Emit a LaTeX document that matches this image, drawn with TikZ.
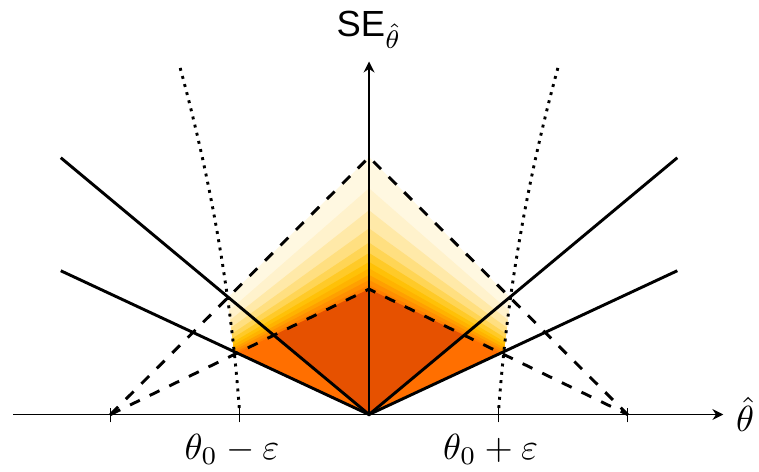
\documentclass[tikz,border=0pt]{standalone}
\usepackage{amsmath}
\usepackage{fontspec}
\newfontfamily\sefont{Liberation Sans}
\usetikzlibrary{arrows.meta,calc}
\definecolor{lev1}{HTML}{FFF8E1}
\definecolor{lev2}{HTML}{FFF2CC}
\definecolor{lev3}{HTML}{FFE9A8}
\definecolor{lev4}{HTML}{FFDF80}
\definecolor{lev5}{HTML}{FFD555}
\definecolor{lev6}{HTML}{FFCA28}
\definecolor{lev7}{HTML}{FFC107}
\definecolor{lev8}{HTML}{FFB300}
\definecolor{lev9}{HTML}{FFA000}
\definecolor{lev10}{HTML}{FF8F00}
\definecolor{lev11}{HTML}{FF7F00}
\definecolor{lev12}{HTML}{FF6F00}
\definecolor{core}{HTML}{E65100}

\begin{document}
\begin{tikzpicture}[x=1.25cm,y=1.25cm,
    solidline/.style={draw=black, thick},
    dashedline/.style={draw=black, thick, dashed},
    dottedline/.style={draw=black, thick, dash pattern=on 0.8pt off 1.5pt}
    ]
    \tikzset{axis/.style={-{Stealth[length=3pt,width=3pt]}}}
    \tikzset{tickline/.style={draw=black}}
    \useasboundingbox (-2.854,-0.437) rectangle (3.016,3.206);
    %
    %points
    %
    \coordinate (O) at (0,0);
    \coordinate (L) at (-2,0);
    \coordinate (R) at (2,0);
    \coordinate (hightop) at (0,1.99);
    \coordinate (lowtop) at (0,0.97);
    \coordinate (steepL) at (-2.384,1.986);
    \coordinate (steepR) at (2.384,1.986);
    \coordinate (flatL) at (-2.384,1.112);
    \coordinate (flatR) at (2.384,1.112);
    \coordinate (dotA) at (-1.039,0.45);
    \coordinate (dotB) at (-1.101,0.95);
    \coordinate (lowL) at (intersection of O--flatL and dotA--dotB);
    \coordinate (cutL) at (intersection of O--steepL and L--lowtop);
    \coordinate (xstart) at (-2.75,0);
    \coordinate (xtip) at (2.74,0);
    \coordinate (ytip) at (0,2.73);
    %
    %levels
    %
    \foreach \a/\col in {1.99/lev1, 1.75/lev2, 1.58/lev3, 1.44/lev4,
        1.33/lev5, 1.25/lev6, 1.18/lev7, 1.13/lev8, 1.08/lev9,
        1.04/lev10, 1.00/lev11, 0.97/lev12}{
        \coordinate (top) at (0,\a);
        \coordinate (C) at (intersection of L--top and dotA--dotB);
        \fill[\col] (O) -- (lowL) -- (C) -- (top)
            let \p1=(C), \p2=(lowL) in -- (-\x1,\y1) -- (-\x2,\y2) -- cycle;
    }
    \fill[core] (O) -- (cutL) -- (lowtop)
        let \p1=(cutL) in -- (-\x1,\y1) -- cycle;
    %
    %lines
    %
    \draw[dashedline] (L) -- (hightop) -- (R);
    \draw[dashedline] (L) -- (lowtop) -- (R);
    \draw[solidline] (steepL) -- (O) -- (steepR);
    \draw[solidline] (flatL) -- (O) -- (flatR);
    \draw[dottedline] plot[domain=0.05:2.70, variable=\t, samples=30]
        ({-1-0.07*\t-0.038*\t*\t},\t);
    \draw[dottedline] plot[domain=0.05:2.70, variable=\t, samples=30]
        ({1+0.07*\t+0.038*\t*\t},\t);
    %
    %axes
    %
    \draw[axis] (xstart) -- (xtip);
    \draw[axis] (O) -- (ytip);
    \foreach \x in {-2,-1,1,2}
        \draw[tickline] (\x,-0.06) -- (\x,0.05);
    \node[above] (selabel) at (ytip) {{\sefont SE}$_{\hat{\theta}}$};
    \node[right] (thetalabel) at (xtip) {$\hat{\theta}$};
    \node[anchor=base] (minuslabel) at (-1.06,-0.345) {$\theta_0-\varepsilon$};
    \node[anchor=base] (pluslabel) at (0.94,-0.345) {$\theta_0+\varepsilon$};
\end{tikzpicture}
\end{document}
